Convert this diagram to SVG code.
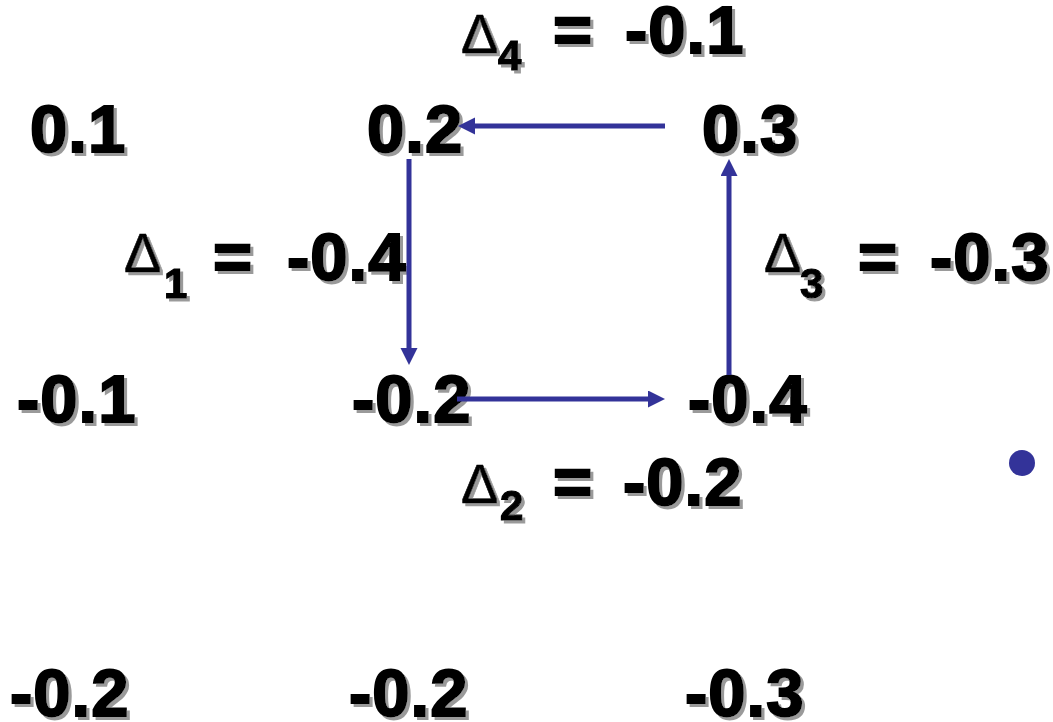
<svg xmlns="http://www.w3.org/2000/svg" width="1053" height="722" viewBox="0 0 1053 722">
<style>
.v{font-family:"Liberation Sans",Arial,sans-serif;font-weight:bold;font-size:67px;letter-spacing:1px;fill:#000;stroke:#000;stroke-width:2px;filter:url(#sh)}
.sub{font-family:"Liberation Sans",Arial,sans-serif;font-weight:bold;font-size:42px;fill:#000;stroke:#000;stroke-width:1.2px;filter:url(#sh)}
.d{font-family:"Liberation Sans",Arial,sans-serif;font-size:56px;fill:#000;stroke:#000;stroke-width:0.6px;filter:url(#sh)}
.c{stroke:#333399;stroke-width:5;fill:none;marker-end:url(#ah)}
</style>
<defs>
<filter id="sh" x="-10%" y="-10%" width="130%" height="130%">
<feDropShadow dx="3" dy="3" stdDeviation="0.6" flood-color="#9a9a9a" flood-opacity="1"/>
</filter>
<marker id="ah" markerUnits="userSpaceOnUse" markerWidth="18" markerHeight="18" refX="7" refY="8.5" orient="auto">
<path d="M0,0 L17,8.5 L0,17 z" fill="#333399"/>
</marker>
</defs>
<rect width="1053" height="722" fill="#fff"/>
<g id="n-r1c1"><text class="v" x="30" y="152">0.1</text></g>
<g id="n-r1c2"><text class="v" x="367" y="152">0.2</text></g>
<g id="n-r1c3"><text class="v" x="702" y="152">0.3</text></g>
<g id="n-r2c1"><text class="v" x="17" y="422">-0.1</text></g>
<g id="n-r2c2"><text class="v" x="352" y="422">-0.2</text></g>
<g id="n-r2c3"><text class="v" x="688" y="422">-0.4</text></g>
<g id="n-r3c1"><text class="v" x="10" y="716">-0.2</text></g>
<g id="n-r3c2"><text class="v" x="349" y="716">-0.2</text></g>
<g id="n-r3c3"><text class="v" x="685" y="716">-0.3</text></g>
<g id="lbl-d4"><text class="d" x="461" y="53">Δ</text><text class="sub" x="498" y="70">4</text><text class="v" x="553" y="53">=</text><text class="v" x="625" y="53">-0.1</text></g>
<g id="lbl-d1"><text class="d" x="124" y="272">Δ</text><text class="sub" x="164" y="298">1</text><text class="v" x="213" y="280">=</text><text class="v" x="287" y="280">-0.4</text></g>
<g id="lbl-d3"><text class="d" x="764" y="272">Δ</text><text class="sub" x="800" y="298">3</text><text class="v" x="858" y="280">=</text><text class="v" x="930" y="280">-0.3</text></g>
<g id="lbl-d2"><text class="d" x="461" y="503">Δ</text><text class="sub" x="500" y="520">2</text><text class="v" x="553" y="505">=</text><text class="v" x="623" y="505">-0.2</text></g>
<g id="connectors">
<line class="c" x1="665" y1="126" x2="468" y2="126"/>
<line class="c" x1="409" y1="159" x2="409" y2="355"/>
<line class="c" x1="457" y1="399" x2="655" y2="399"/>
<line class="c" x1="729" y1="375" x2="729" y2="169"/>
</g>
<g id="dot"><circle cx="1022" cy="463" r="13" fill="#333399"/></g>
</svg>
